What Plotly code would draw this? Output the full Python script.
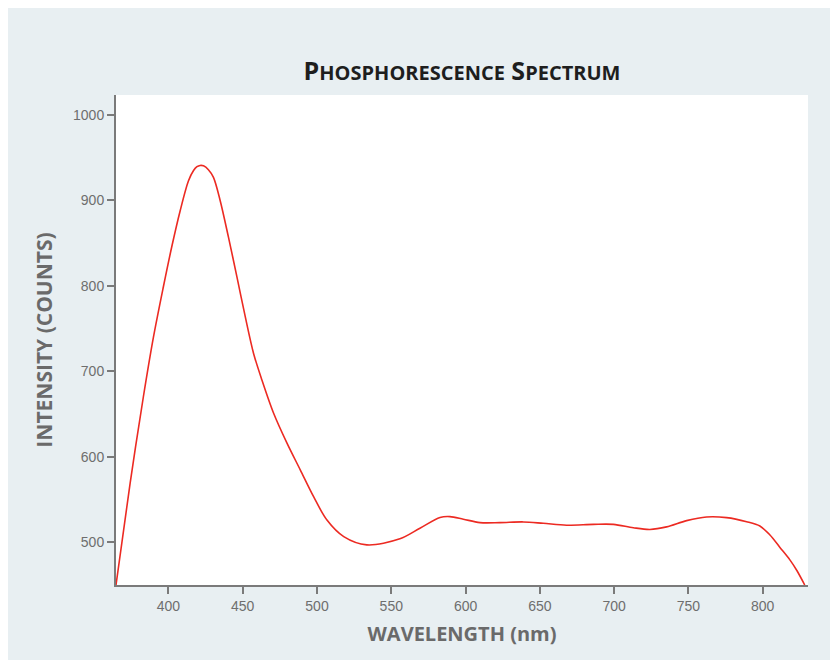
import plotly.graph_objects as go

wavelength = [364.7, 374.2, 383.1, 389.9, 396.6, 402.2, 407.9, 413.5, 416.9, 419.2,
              421.3, 423.6, 426.9, 430.3, 434.8, 440.4, 446.1, 451.7, 457.3, 462.9,
              470.8, 479.8, 488.8, 497.8, 506.7, 518.0, 533.5, 555.8, 569.3, 582.8,
              589.5, 598.5, 609.7, 623.2, 638.9, 652.3, 668.0, 686.0, 699.5, 712.9,
              724.1, 735.3, 748.8, 762.2, 775.7, 789.2, 798.1, 804.9, 811.6, 818.3,
              823.0, 828.3]
intensity = [450, 569, 670, 740, 799, 845.5, 888, 923, 935, 939.5,
             941, 940.5, 936, 927, 900, 857, 810.5, 764, 721, 690,
             651, 616, 584.5, 553, 526, 506.6, 497, 504, 516.4, 529,
             530, 527, 523, 523, 523.8, 522.2, 520, 521, 521, 517,
             515, 518, 525.3, 529.6, 528.8, 524, 519, 508.5, 494, 479.4,
             467, 450]

x_ticks = [400, 450, 500, 550, 600, 650, 700, 750, 800]
y_ticks = [500, 600, 700, 800, 900, 1000]

W, H = 830, 652
L, R, T, B = 108, 30, 86.5, 75

fig = go.Figure()
fig.add_trace(go.Scatter(x=wavelength, y=intensity, mode="lines",
                         line=dict(color="#ec2a22", width=1.6, shape="spline", smoothing=0.9),
                         hoverinfo="skip", showlegend=False))

bg = "#e8eff2"

axis_common = dict(showgrid=False, zeroline=False, showline=True, linecolor="#7a7a7a",
                   linewidth=2, ticks="outside", ticklen=7, tickwidth=1.5, tickcolor="#7a7a7a",
                   tickfont=dict(family="Liberation Sans, Arial", size=14, color="#6e6e6e"))

title_font = "Open Sans, Lato, sans-serif"

fig.update_layout(
    width=W, height=H,
    margin=dict(l=L, r=R, t=T, b=B),
    paper_bgcolor=bg, plot_bgcolor="white",
    title=dict(
        text="<b>P<span style='font-size:20px'>HOSPHORESCENCE</span> S<span style='font-size:20px'>PECTRUM</span></b>",
        font=dict(family=title_font, size=25, color="#1e1e1e"),
        x=0.5, xanchor="center", xref="paper",
        y=1 - 63 / H, yanchor="middle", yref="container"),
    xaxis=dict(range=[364.7, 830.5], tickvals=x_ticks,
               title=dict(text="<b>WAVELENGTH (nm)</b>", standoff=14,
                          font=dict(family=title_font, size=20, color="#6a6a6a")),
               **axis_common),
    yaxis=dict(range=[450, 1023.4], tickvals=y_ticks,
               title=dict(text="<b>INTENSITY (COUNTS)</b>", standoff=15,
                          font=dict(family=title_font, size=21, color="#6a6a6a")),
               **axis_common),
)

fig.write_html("out.html")
